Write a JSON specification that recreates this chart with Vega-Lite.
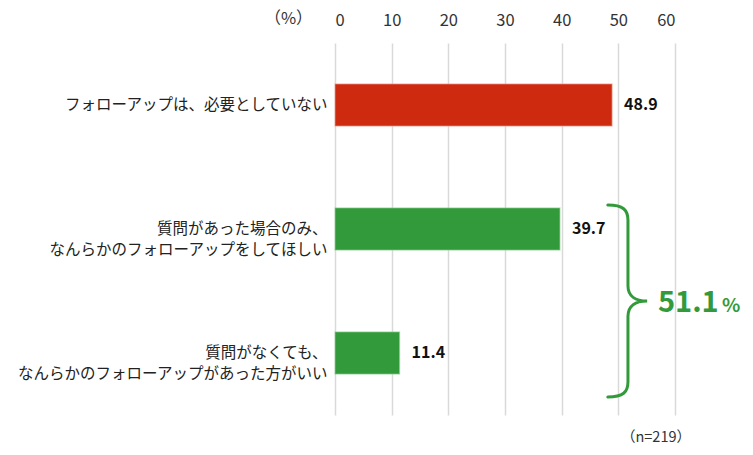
{
  "$schema": "https://vega.github.io/schema/vega-lite/v6.json",
  "width": 340,
  "height": 372,
  "autosize": "none",
  "padding": {"left": 335, "top": 43, "right": 78, "bottom": 40},
  "background": "white",
  "config": {
    "view": {"stroke": null},
    "font": "Noto Sans CJK JP"
  },
  "title": {
    "text": "（n=219）",
    "orient": "bottom",
    "anchor": "end",
    "frame": "group",
    "offset": 16,
    "dx": 16,
    "fontSize": 14.5,
    "fontWeight": "normal",
    "color": "#333333",
    "font": "Noto Sans CJK JP"
  },
  "data": {
    "values": [
      {"label": "フォローアップは、必要としていない", "value": 48.9, "group": "no"},
      {"label": "質問があった場合のみ、\nなんらかのフォローアップをしてほしい", "value": 39.7, "group": "yes"},
      {"label": "質問がなくても、\nなんらかのフォローアップがあった方がいい", "value": 11.4, "group": "yes"}
    ]
  },
  "encoding": {
    "y": {
      "field": "label",
      "type": "nominal",
      "sort": null,
      "title": null,
      "scale": {"paddingInner": 0.66, "paddingOuter": 0.33},
      "axis": {
        "domain": false,
        "ticks": false,
        "labelExpr": "split(datum.label, '\\n')",
        "labelFontSize": 15.5,
        "labelColor": "#222222",
        "labelPadding": 8,
        "labelLineHeight": 21,
        "labelLimit": 400
      }
    }
  },
  "layer": [
    {
      "mark": {"type": "bar", "strokeWidth": 1.2, "strokeOpacity": 0.6},
      "encoding": {
        "x": {
          "field": "value",
          "type": "quantitative",
          "scale": {"domain": [0, 60]},
          "title": "（%）",
          "axis": {
            "orient": "top",
            "values": [0, 10, 20, 30, 40, 50, 60],
            "domain": false,
            "ticks": false,
            "grid": true,
            "gridColor": "#d9d9d9",
            "gridWidth": 1.5,
            "labelFontSize": 16.5,
            "labelColor": "#333333",
            "labelPadding": 15,
            "titleAngle": 0,
            "titleFontSize": 16.5,
            "titleFontWeight": "normal",
            "titleColor": "#333333",
            "titleX": -47,
            "titleY": -25,
            "titleAlign": "center",
            "titleBaseline": "middle"
          }
        },
        "color": {
          "field": "group",
          "type": "nominal",
          "scale": {"domain": ["no", "yes"], "range": ["#CD2A0F", "#339A3C"]},
          "legend": null
        },
        "stroke": {
          "field": "group",
          "type": "nominal",
          "scale": {"domain": ["no", "yes"], "range": ["#F0A090", "#8FD095"]},
          "legend": null
        }
      }
    },
    {
      "mark": {"type": "text", "align": "left", "baseline": "middle", "dx": 12, "fontSize": 16, "fontWeight": "bold", "color": "#111111"},
      "encoding": {
        "x": {"field": "value", "type": "quantitative"},
        "text": {"field": "value", "type": "quantitative", "format": ".1f"}
      }
    },
    {
      "data": {"values": [{"label": "質問があった場合のみ、\nなんらかのフォローアップをしてほしい", "total": 51.1}]},
      "layer": [
        {
          "mark": {
            "type": "point",
            "shape": "M-0.21,-1 C-0.05,-1 0,-0.95 0,-0.84 L0,-0.16 C0,-0.05 0.08,0 0.2,0 C0.08,0 0,0.05 0,0.16 L0,0.84 C0,0.95 -0.05,1 -0.21,1",
            "size": 36864,
            "filled": false,
            "stroke": "#339A3C",
            "strokeWidth": 3,
            "strokeCap": "round",
            "opacity": 1,
            "yOffset": 72
          },
          "encoding": {
            "x": {"datum": 51.7, "type": "quantitative"}
          }
        },
        {
          "mark": {"type": "text", "align": "left", "baseline": "alphabetic", "dx": 30, "dy": 11, "yOffset": 72, "fontSize": 29, "fontWeight": "bold", "color": "#339A3C"},
          "encoding": {
            "x": {"datum": 51.7, "type": "quantitative"},
            "text": {"field": "total", "type": "quantitative", "format": ".1f"}
          }
        },
        {
          "mark": {"type": "text", "align": "left", "baseline": "alphabetic", "dx": 94, "dy": 11, "yOffset": 72, "fontSize": 19, "fontWeight": "bold", "color": "#339A3C"},
          "encoding": {
            "x": {"datum": 51.7, "type": "quantitative"},
            "text": {"datum": "%"}
          }
        }
      ]
    }
  ]
}
